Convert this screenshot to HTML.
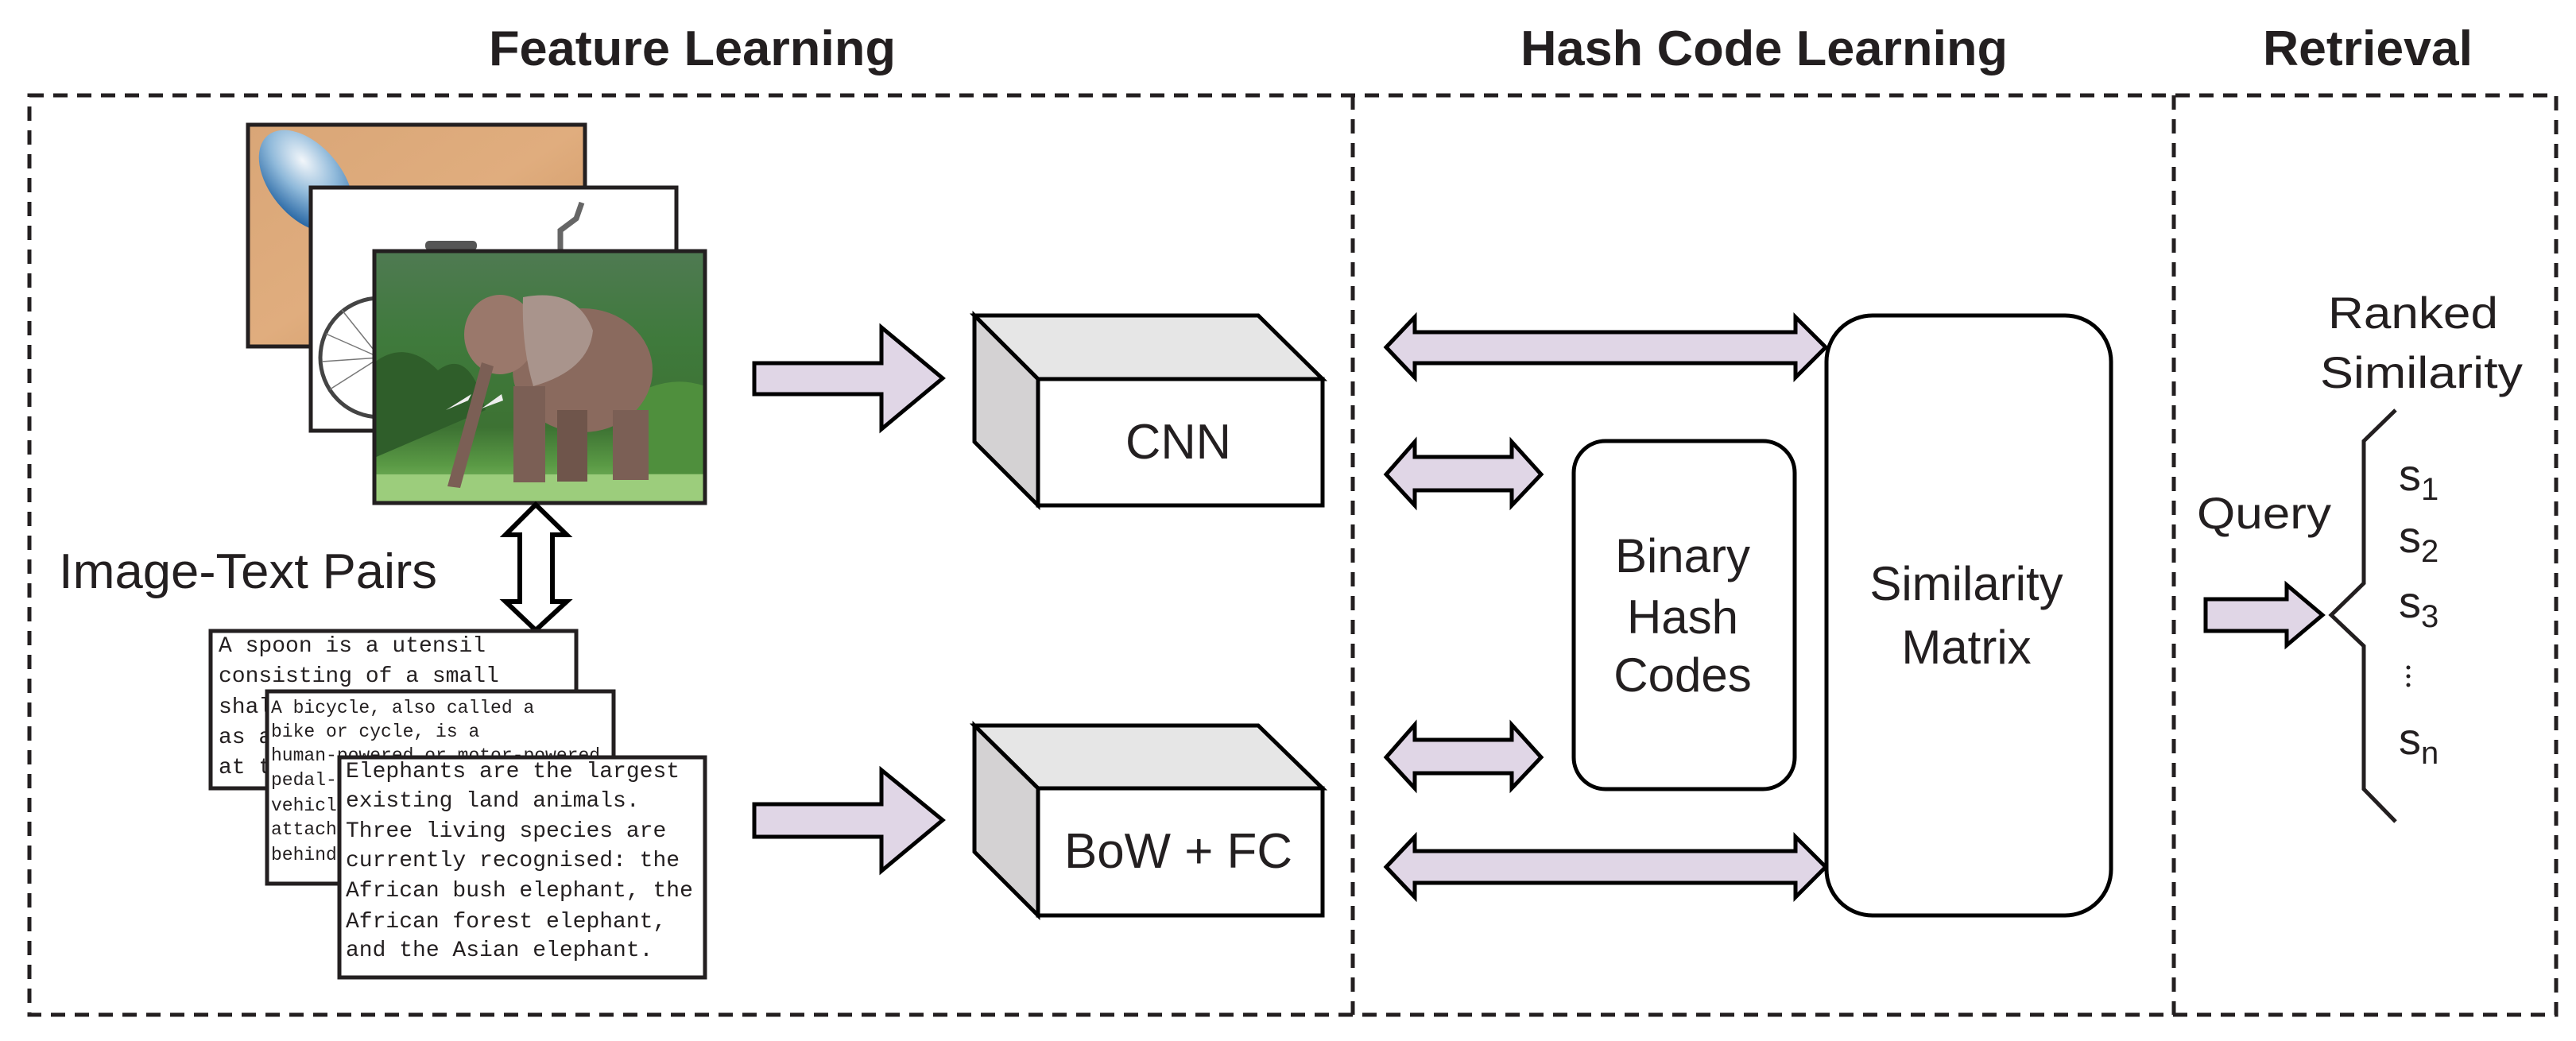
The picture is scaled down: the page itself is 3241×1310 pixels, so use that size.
<!DOCTYPE html>
<html><head><meta charset="utf-8"><style>html,body{margin:0;padding:0;background:#fff}svg{display:block}</style></head>
<body>
<svg width="3241" height="1310" viewBox="0 0 3241 1310" xmlns="http://www.w3.org/2000/svg" font-family="'Liberation Sans', Arial, sans-serif">
<defs>
<linearGradient id="wood" x1="0" y1="0" x2="1" y2="1"><stop offset="0" stop-color="#d9a677"/><stop offset="0.5" stop-color="#e0ad7e"/><stop offset="1" stop-color="#c98f5c"/></linearGradient>
<radialGradient id="spoon" cx="0.35" cy="0.35" r="0.7"><stop offset="0" stop-color="#f2f6fa"/><stop offset="0.5" stop-color="#8fb9da"/><stop offset="1" stop-color="#2c6aa6"/></radialGradient>
<linearGradient id="bg" x1="0" y1="0" x2="0" y2="1"><stop offset="0" stop-color="#4f7a52"/><stop offset="0.35" stop-color="#3f7a3c"/><stop offset="0.7" stop-color="#3d7233"/><stop offset="0.85" stop-color="#5a9a45"/><stop offset="1" stop-color="#8fc46e"/></linearGradient>
<clipPath id="cs"><rect x="312" y="157" width="424" height="279"/></clipPath>
<clipPath id="cb"><rect x="391" y="236" width="460" height="306"/></clipPath>
</defs>
<g fill="#231f20">
<text x="615" y="82" font-size="62" font-weight="bold" textLength="512" lengthAdjust="spacingAndGlyphs">Feature Learning</text>
<text x="1913" y="82" font-size="62" font-weight="bold" textLength="613" lengthAdjust="spacingAndGlyphs">Hash Code Learning</text>
<text x="2847" y="82" font-size="62" font-weight="bold" textLength="264" lengthAdjust="spacingAndGlyphs">Retrieval</text>
</g>
<g fill="none" stroke="#231f20" stroke-width="5" stroke-dasharray="18,12">
<rect x="37" y="120" width="3179" height="1157"/>
<line x1="1702" y1="120" x2="1702" y2="1277"/>
<line x1="2735" y1="120" x2="2735" y2="1277"/>
</g>
<!-- spoon image -->
<rect x="312" y="157" width="424" height="279" fill="url(#wood)"/>
<g clip-path="url(#cs)">
<ellipse cx="385" cy="228" rx="75" ry="45" transform="rotate(50 385 228)" fill="url(#spoon)"/>
</g>
<rect x="312" y="157" width="424" height="279" fill="none" stroke="#231f20" stroke-width="5"/>
<!-- bicycle image -->
<rect x="391" y="236" width="460" height="306" fill="#fff"/>
<g clip-path="url(#cb)">
<circle cx="478" cy="450" r="75" fill="none" stroke="#444" stroke-width="5"/>
<g stroke="#777" stroke-width="1.5"><line x1="478" y1="450" x2="410" y2="420"/><line x1="478" y1="450" x2="405" y2="455"/><line x1="478" y1="450" x2="415" y2="490"/><line x1="478" y1="450" x2="430" y2="390"/></g>
<rect x="535" y="303" width="65" height="12" rx="5" fill="#555"/>
<path d="M705 316 L705 290 L725 275 L732 255" stroke="#666" stroke-width="7" fill="none"/>
</g>
<rect x="391" y="236" width="460" height="306" fill="none" stroke="#231f20" stroke-width="5"/>
<!-- elephant image -->
<g transform="translate(471,316)">
<rect x="0" y="0" width="416" height="317" fill="url(#bg)"/>
<path d="M0 140 Q40 110 80 150 Q120 120 140 200 L0 260Z" fill="#2f5e2a"/>
<path d="M300 200 Q360 150 416 170 L416 280 L300 280Z" fill="#4f8f3d"/>
<rect x="0" y="281" width="416" height="36" fill="#9ccd7c"/>
<ellipse cx="262" cy="150" rx="88" ry="78" fill="#8a6a5e"/>
<ellipse cx="158" cy="105" rx="45" ry="50" fill="#9a786b"/>
<path d="M187 58 Q255 45 275 100 Q270 150 200 170 Q185 120 187 58Z" fill="#a9948c"/>
<path d="M135 140 L150 145 L108 298 L92 296Z" fill="#7b5f55"/>
<rect x="175" y="170" width="40" height="121" fill="#7b5f55"/>
<rect x="300" y="200" width="45" height="88" fill="#7b5f55"/>
<rect x="230" y="200" width="38" height="90" fill="#6f554b"/>
<path d="M122 180 L90 200 L118 188Z M160 180 L135 198 L162 188Z" fill="#eee"/>
</g>
<rect x="471" y="316" width="416" height="317" fill="none" stroke="#231f20" stroke-width="5"/>
<!-- vertical double arrow -->
<path d="M674 635 L713 673 L695 673 L695 757 L713 757 L674 793 L636 757 L654 757 L654 673 L636 673Z" fill="#fff" stroke="#000" stroke-width="6"/>
<text x="74" y="740" font-size="62" fill="#231f20" textLength="476" lengthAdjust="spacingAndGlyphs">Image-Text Pairs</text>
<!-- text boxes -->
<g font-family="'Liberation Mono', 'DejaVu Sans Mono', monospace" fill="#231f20">
<rect x="265" y="794" width="460" height="198" fill="#fff" stroke="#231f20" stroke-width="5"/>
<g font-size="28"><text x="275" y="820">A spoon is a utensil</text><text x="275" y="858">consisting of a small</text><text x="275" y="897">shal</text><text x="275" y="935">as a</text><text x="275" y="973">at t</text></g>
<rect x="336" y="870" width="436" height="242" fill="#fff" stroke="#231f20" stroke-width="5"/>
<g font-size="23"><text x="341" y="897">A bicycle, also called a</text><text x="341" y="927">bike or cycle, is a</text><text x="341" y="957">human-powered or motor-powered</text><text x="341" y="988">pedal-</text><text x="341" y="1020">vehicl</text><text x="341" y="1050">attach</text><text x="341" y="1082">behind</text></g>
<rect x="427" y="953" width="460" height="277" fill="#fff" stroke="#231f20" stroke-width="5"/>
<g font-size="28"><text x="435" y="978">Elephants are the largest</text><text x="435" y="1015">existing land animals.</text><text x="435" y="1053">Three living species are</text><text x="435" y="1090">currently recognised: the</text><text x="435" y="1128">African bush elephant, the</text><text x="435" y="1167">African forest elephant,</text><text x="435" y="1203">and the Asian elephant.</text></g>
</g>
<!-- arrows to boxes -->
<g fill="#e0d6e6" stroke="#000" stroke-width="5">
<path d="M949 457 L1109 457 L1109 412 L1186 476 L1109 540 L1109 496 L949 496Z"/>
<path d="M949 1012 L1109 1012 L1109 969 L1186 1032 L1109 1096 L1109 1053 L949 1053Z"/>
</g>
<!-- 3D boxes -->
<g stroke="#000" stroke-width="5" stroke-linejoin="miter">
<path d="M1226 397 L1583 397 L1664 477 L1306 477Z" fill="#e6e6e6"/>
<path d="M1226 397 L1306 477 L1306 636 L1226 556Z" fill="#d4d2d3"/>
<rect x="1306" y="477" width="358" height="159" fill="#fff"/>
<path d="M1226 913 L1583 913 L1664 992 L1306 992Z" fill="#e6e6e6"/>
<path d="M1226 913 L1306 992 L1306 1152 L1226 1072Z" fill="#d4d2d3"/>
<rect x="1306" y="992" width="358" height="160" fill="#fff"/>
</g>
<text x="1416" y="577" font-size="62" fill="#231f20" textLength="133" lengthAdjust="spacingAndGlyphs">CNN</text>
<text x="1339" y="1092" font-size="62" fill="#231f20" textLength="287" lengthAdjust="spacingAndGlyphs">BoW + FC</text>
<!-- hash arrows -->
<g fill="#e0d6e6" stroke="#000" stroke-width="5">
<path d="M1744 437 L1780 399 L1780 418 L2259 418 L2259 399 L2297 437 L2259 475 L2259 457 L1780 457 L1780 475Z"/>
<path d="M1744 1091 L1780 1053 L1780 1071 L2259 1071 L2259 1053 L2297 1091 L2259 1129 L2259 1111 L1780 1111 L1780 1129Z"/>
<path d="M1744 597 L1780 556 L1780 575 L1902 575 L1902 556 L1939 597 L1902 636 L1902 617 L1780 617 L1780 636Z"/>
<path d="M1744 953 L1780 912 L1780 931 L1902 931 L1902 912 L1939 953 L1902 992 L1902 973 L1780 973 L1780 992Z"/>
</g>
<rect x="1980" y="555" width="278" height="438" rx="40" fill="#fff" stroke="#000" stroke-width="5"/>
<rect x="2298" y="397" width="358" height="755" rx="58" fill="#fff" stroke="#000" stroke-width="5"/>
<g font-size="60" fill="#231f20" text-anchor="middle">
<text x="2117" y="720">Binary</text><text x="2117" y="797">Hash</text><text x="2117" y="870">Codes</text>
<text x="2474" y="755">Similarity</text><text x="2474" y="835">Matrix</text>
</g>
<!-- retrieval -->
<g font-size="56" fill="#231f20">
<text x="2929" y="413" textLength="214" lengthAdjust="spacingAndGlyphs">Ranked</text>
<text x="2919" y="488" textLength="255" lengthAdjust="spacingAndGlyphs">Similarity</text>
<text x="2764" y="665" textLength="169" lengthAdjust="spacingAndGlyphs">Query</text>
<text x="3018" y="617">s<tspan font-size="40" dy="12">1</tspan></text>
<text x="3018" y="695">s<tspan font-size="40" dy="12">2</tspan></text>
<text x="3018" y="777">s<tspan font-size="40" dy="12">3</tspan></text>
<text x="3018" y="949">s<tspan font-size="40" dy="12">n</tspan></text>
</g>
<circle cx="3030" cy="840" r="2.5" fill="#231f20"/><circle cx="3030" cy="851" r="2.5" fill="#231f20"/><circle cx="3030" cy="862" r="2.5" fill="#231f20"/>
<path d="M3014 516 L2974 555 L2974 734 L2933 774 L2974 813 L2974 993 L3014 1034" fill="none" stroke="#231f20" stroke-width="5"/>
<path d="M2775 754 L2877 754 L2877 736 L2922 774 L2877 812 L2877 794 L2775 794Z" fill="#e0d6e6" stroke="#000" stroke-width="5"/>
</svg>
</body></html>
